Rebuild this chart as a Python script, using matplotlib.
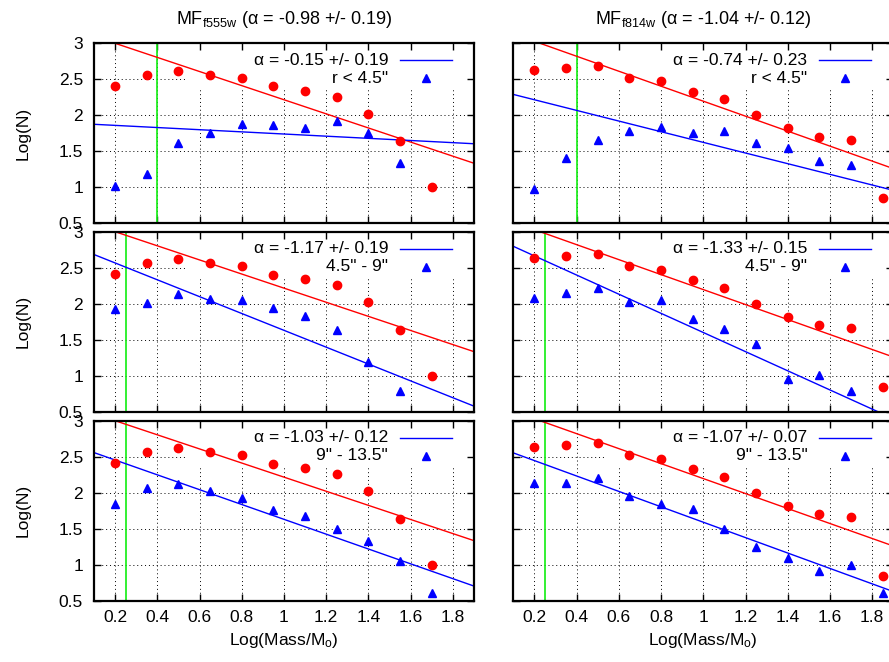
import numpy as np
import matplotlib
matplotlib.use("Agg")
import matplotlib.pyplot as plt
from matplotlib.patches import Rectangle
from matplotlib.ticker import FormatStrFormatter

plt.rcParams['font.family'] = ['Liberation Sans', 'DejaVu Sans']
plt.rcParams['mathtext.fontset'] = 'custom'
plt.rcParams['mathtext.rm'] = 'Liberation Sans'
plt.rcParams['mathtext.it'] = 'Liberation Sans:italic'


# ================= DATA =================
mass_bins = [0.2, 0.35, 0.5, 0.65, 0.8, 0.95, 1.1, 1.25, 1.4, 1.55, 1.7, 1.85]

# whole-field mass functions (red)
total_f555w = [2.41, 2.56, 2.62, 2.56, 2.52, 2.40, 2.34, 2.26, 2.02, 1.64, 1.00]
total_f814w = [2.63, 2.66, 2.69, 2.52, 2.47, 2.33, 2.22, 2.00, 1.82, 1.70, 1.66, 0.85]

# radial annuli (blue)
f555w_inner = [1.02, 1.19, 1.62, 1.76, 1.88, 1.86, 1.83, 1.92, 1.76, 1.34]
f555w_mid = [1.93, 2.01, 2.14, 2.07, 2.05, 1.94, 1.83, 1.63, 1.19, 0.79]
f555w_outer = [1.85, 2.06, 2.12, 2.03, 1.93, 1.76, 1.68, 1.50, 1.33, 1.05, 0.61]
f814w_inner = [0.97, 1.41, 1.65, 1.78, 1.84, 1.75, 1.78, 1.61, 1.55, 1.37, 1.31]
f814w_mid = [2.075, 2.15, 2.22, 2.02, 2.05, 1.79, 1.65, 1.44, 0.96, 1.01, 0.79]
f814w_outer = [2.14, 2.13, 2.20, 1.96, 1.84, 1.77, 1.50, 1.24, 1.09, 0.91, 1.00, 0.61]

# power-law fits: log N = intercept + slope * log M
total_slopes = [-0.98, -1.04]
total_intercepts = [3.196, 3.236]
ring_slopes = [[-0.15, -1.17, -1.03], [-0.74, -1.33, -1.07]]
ring_intercepts = [[1.89, 2.80, 2.66], [2.364, 2.93, 2.66]]
ring_errors = [["0.19", "0.19", "0.12"], ["0.23", "0.15", "0.07"]]

ring_labels = ['r < 4.5"', '4.5" - 9"', '9" - 13.5"']
cut_mass = [0.4, 0.25, 0.25]

titles = [r'MF$_{\mathrm{f555w}}$ (α = -0.98 +/- 0.19)',
          r'MF$_{\mathrm{f814w}}$ (α = -1.04 +/- 0.12)']

x_ticks = [0.2, 0.4, 0.6, 0.8, 1.0, 1.2, 1.4, 1.6, 1.8]
y_ticks = [0.5, 1.0, 1.5, 2.0, 2.5, 3.0]

rings = [[f555w_inner, f555w_mid, f555w_outer],
         [f814w_inner, f814w_mid, f814w_outer]]
totals = [total_f555w, total_f814w]

FS = 12.5

# ================= LAYOUT =================
W, H = 889, 662
fig = plt.figure(figsize=(W / 100, H / 100), dpi=100)

col_left = [94 / W, 513.3 / W]
col_width = 380 / W
row_top = [43.3, 231.7, 420.7]
row_height = 180 / H

# white strips so each lower panel hides the "0.5" label above it
for i, cut in enumerate([229.3, 417.5]):
    fig.add_artist(Rectangle((0, 0), 1, 1 - cut / H, transform=fig.transFigure,
                             facecolor='white', edgecolor='none', zorder=i + 0.5))

fit_x = np.array([0.1, 1.9])

for col in range(2):
    for row in range(3):
        bottom = 1 - row_top[row] / H - row_height
        ax = fig.add_axes([col_left[col], bottom, col_width, row_height], zorder=row)

        ax.set_xlim(0.1, 1.9)
        ax.set_ylim(0.5, 3.0)
        ax.set_xticks(x_ticks)
        ax.set_yticks(y_ticks)
        ax.xaxis.set_major_formatter(FormatStrFormatter('%g'))
        ax.yaxis.set_major_formatter(FormatStrFormatter('%g'))
        ax.tick_params(direction='in', top=True, right=True, length=5, width=1,
                       labelsize=FS, pad=8)
        ax.tick_params(axis='x', pad=7)
        for s in ax.spines.values():
            s.set_linewidth(1.6)

        # dotted grid
        for xv in x_ticks:
            ax.axvline(xv, color='black', lw=0.7, ls=(0, (1, 3)), zorder=0.5)
        for yv in y_ticks:
            ax.axhline(yv, color='black', lw=0.7, ls=(0, (1, 3)), zorder=0.5)

        # key area blanks the grid behind it
        ax.add_patch(Rectangle((0.244, 0.75), 0.756, 0.25, transform=ax.transAxes,
                               facecolor='white', edgecolor='none', zorder=1))

        ax.axvline(cut_mass[row], color='#11ee11', lw=1.2, zorder=2)

        ax.plot(fit_x, total_intercepts[col] + total_slopes[col] * fit_x,
                color='red', lw=1.0, zorder=2)
        ax.plot(fit_x, ring_intercepts[col][row] + ring_slopes[col][row] * fit_x,
                color='blue', lw=1.0, zorder=2)

        tot = totals[col]
        ax.plot(mass_bins[:len(tot)], tot, 'o', color='red', ms=6,
                mec='red', zorder=3, clip_on=False)
        ring = rings[col][row]
        ax.plot(mass_bins[:len(ring)], ring, '^', color='blue', ms=5.2,
                mec='blue', zorder=3)

        # key: fit line sample and the annulus marker
        label = 'α = %.2f +/- %s' % (ring_slopes[col][row], ring_errors[col][row])
        ax.text(0.774, 0.906, label, transform=ax.transAxes, ha='right',
                va='center', fontsize=FS, zorder=4)
        ax.plot([0.805, 0.942], [0.906, 0.906], transform=ax.transAxes,
                color='blue', lw=1.0, zorder=4)
        ax.text(0.774, 0.806, ring_labels[row], transform=ax.transAxes, ha='right',
                va='center', fontsize=FS, zorder=4)
        ax.plot([0.873], [0.806], '^', transform=ax.transAxes, color='blue',
                ms=5.2, zorder=4)

        if row == 0:
            ax.set_title(titles[col], fontsize=13, pad=14)
        if row == 2:
            ax.set_xlabel(r'Log(Mass/M$_{\mathrm{o}}$)', fontsize=FS, labelpad=4)
        else:
            ax.set_xticklabels([])
        if col == 0:
            ax.set_ylabel('Log(N)', fontsize=FS, labelpad=20)
        else:
            ax.set_yticklabels([])

fig.savefig('out.png', dpi=100)
